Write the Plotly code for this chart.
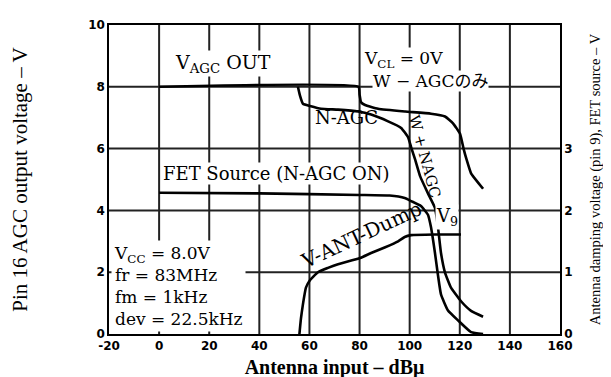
import plotly.graph_objects as go

# --- data (left axis: V, right axis: V) ---
# V_AGC OUT with W-AGC only (V_CL = 0V)
w_agc_x = [0, 79.6, 80.0, 80.6, 82.2, 87.4, 98.2, 108.5, 114.1, 117.3, 120.1, 121.5, 122.7, 124.5, 127.3, 129.3]
w_agc_y = [8.0, 8.0, 7.75, 7.5, 7.41, 7.29, 7.2, 7.13, 7.04, 6.82, 6.48, 6.0, 5.65, 5.2, 4.9, 4.7]

# V_AGC OUT with W + N AGC (branches off at the N-AGC step)
wn_agc_x = [55.4, 56.2, 57.4, 60.2, 64.6, 71.4, 79.4, 84.6, 91.4, 96.6, 99.4, 100.6, 102.2, 104.2,
            107.3, 110.1, 111.3, 112.5, 114.1, 116.5, 120.5, 124.5, 129.3]
wn_agc_y = [8.0, 7.72, 7.45, 7.38, 7.29, 7.26, 7.2, 7.1, 6.88, 6.67, 6.36, 6.04, 5.64, 5.1,
            4.55, 4.08, 3.46, 2.62, 1.99, 1.5, 1.06, 0.75, 0.56]

# FET source (N-AGC ON), right axis
fet_x = [0, 40, 80, 92, 98, 100.6, 104.5, 107.3, 108.5, 110.1, 111.3, 112.5, 115.3, 119.3, 124.5, 129.3]
fet_y = [2.285, 2.275, 2.25, 2.24, 2.2, 2.15, 2.07, 1.93, 1.73, 1.31, 0.95, 0.64, 0.38, 0.22, 0.03, 0.0]

# antenna damping voltage V9, right axis
dump_x = [56.0, 56.6, 57.4, 58.6, 60.2, 63.4, 67.4, 71.4, 80.2, 84.6, 90, 95.4, 98, 100.6, 110, 120.5]
dump_y = [0.0, 0.25, 0.48, 0.75, 0.87, 1.0, 1.07, 1.13, 1.23, 1.31, 1.4, 1.5, 1.57, 1.6, 1.61, 1.61]

x_range = [-20, 160]
y_range = [0, 10]
x_ticks = [-20, 0, 20, 40, 60, 80, 100, 120, 140, 160]
x_ticktext = ['-20', '0', '20', '40', '60', '80', '100', '120', '140', '160']
y_ticks = [0, 2, 4, 6, 8, 10]
y2_ticks = [0, 1, 2, 3]

conditions = ['V<sub>CC</sub> = 8.0V', 'fr = 83MHz', 'fm = 1kHz', 'dev = 22.5kHz']

serif = 'DejaVu Serif'
line = dict(color='black', width=2.6, shape='spline', smoothing=0.4)
grid = dict(color='#222222', width=2)

fig = go.Figure()
# grid lines first so the curves sit on top
for xv in x_ticks[1:-1]:
    fig.add_trace(go.Scatter(x=[xv, xv], y=y_range, mode='lines', line=grid, name='grid'))
for yv in y_ticks[1:-1]:
    fig.add_trace(go.Scatter(x=x_range, y=[yv, yv], mode='lines', line=grid, name='grid'))

fig.add_trace(go.Scatter(x=w_agc_x, y=w_agc_y, mode='lines', line=line, name='W-AGC'))
fig.add_trace(go.Scatter(x=wn_agc_x, y=wn_agc_y, mode='lines', line=line, name='W+N AGC'))
fig.add_trace(go.Scatter(x=fet_x, y=fet_y, mode='lines', line=line, name='FET Source', yaxis='y2'))
fig.add_trace(go.Scatter(x=dump_x, y=dump_y, mode='lines', line=line, name='V-ANT-Dump', yaxis='y2'))

tickfont = dict(family='DejaVu Sans', size=12, color='black', weight='bold')

fig.update_layout(
    width=611, height=377,
    margin=dict(l=101, r=59, t=10, b=46),
    showlegend=False,
    plot_bgcolor='white', paper_bgcolor='white',
    xaxis=dict(range=x_range, tickvals=x_ticks, ticktext=x_ticktext,
               showgrid=True, gridcolor='black', gridwidth=1,
               showline=True, linecolor='black', linewidth=1.5, mirror=True, zeroline=False,
               ticks='', tickfont=tickfont,
               title=dict(text='Antenna input – dBμ', standoff=8,
                          font=dict(family='Liberation Serif', size=20, color='black', weight='bold'))),
    yaxis=dict(range=y_range, tickvals=y_ticks,
               showgrid=True, gridcolor='black', gridwidth=1,
               showline=True, linecolor='black', linewidth=1.5, mirror=True, zeroline=False,
               ticks='', tickfont=tickfont,
               title=dict(text='Pin 16 AGC output voltage – V', standoff=55,
                          font=dict(family='Liberation Serif', size=21, color='black'))),
    yaxis2=dict(range=[0, 5], tickvals=y2_ticks, overlaying='y', side='right', showgrid=False,
                showline=True, linecolor='black', linewidth=1.5, zeroline=False,
                ticks='', tickfont=tickfont,
                title=dict(text='Antenna damping voltage (pin 9), FET source – V', standoff=18,
                           font=dict(family='Liberation Serif', size=14.5, color='black'))),
)

# conditions block, white background hides the grid behind it
fig.add_annotation(x=-19.4, y=0.06, xanchor='left', yanchor='bottom', align='left',
                   text='<br>'.join(conditions), showarrow=False, bgcolor='white', borderpad=2,
                   font=dict(family=serif, size=17, color='black'))

labels = [
    dict(x=25.3, y=8.75, text='V<sub>AGC</sub> OUT', size=19, bg='white'),
    dict(x=97.4, y=8.87, text='V<sub>CL</sub> = 0V', size=17, bg='white'),
    dict(x=108.5, y=8.2, text='W − AGCのみ', size=17, bg='white'),
    dict(x=74.6, y=7.0, text='N-AGC', size=18, bg='rgba(0,0,0,0)'),
    dict(x=46.7, y=5.18, text='FET Source (N-AGC ON)', size=18, bg='white'),
    dict(x=114.9, y=3.8, text='V<sub>9</sub>', size=18, bg='white'),
]
for lb in labels:
    fig.add_annotation(x=lb['x'], y=lb['y'], text=lb['text'], showarrow=False, bgcolor=lb['bg'],
                       borderpad=0, font=dict(family=serif + ', Noto Sans CJK JP', size=lb['size'], color='black'))

fig.add_annotation(x=105.8, y=5.75, text='W + NAGC', showarrow=False, textangle=75,
                   font=dict(family=serif, size=15, color='black'))
fig.add_annotation(x=80.6, y=1.6, yref='y2', text='V-ANT-Dump', showarrow=False, textangle=-25,
                   font=dict(family=serif, size=20, color='black'))

fig.write_html('out.html')
